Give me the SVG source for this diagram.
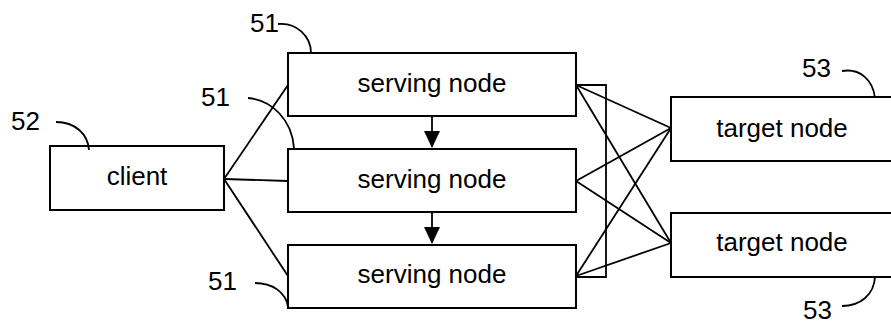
<svg xmlns="http://www.w3.org/2000/svg" width="891" height="324" viewBox="0 0 891 324">
<style>
.box{fill:#fff;stroke:#000;stroke-width:2}
.t{font-family:"Liberation Sans",Arial,sans-serif;font-size:26px;fill:#000}
.c{text-anchor:middle}
.ln{fill:none;stroke:#000;stroke-width:1.8}
</style>
<rect width="891" height="324" fill="#fff"/>
<g id="connectors">
<line class="ln" x1="224" y1="179" x2="288" y2="85"/>
<line class="ln" x1="224" y1="179" x2="288" y2="181"/>
<line class="ln" x1="224" y1="179" x2="288" y2="276"/>
<path class="ln" d="M576,85 H606 V277 H576"/>
<line class="ln" x1="576" y1="85" x2="671" y2="128"/>
<line class="ln" x1="576" y1="85" x2="671" y2="243"/>
<line class="ln" x1="576" y1="181" x2="671" y2="128"/>
<line class="ln" x1="576" y1="181" x2="671" y2="243"/>
<line class="ln" x1="576" y1="276" x2="671" y2="128"/>
<line class="ln" x1="576" y1="276" x2="671" y2="243"/>
<line class="ln" x1="432" y1="116" x2="432" y2="132"/>
<polygon points="424,131 440,131 432,148"/>
<line class="ln" x1="432" y1="212" x2="432" y2="228"/>
<polygon points="424,227 440,227 432,244"/>
</g>
<g id="client">
<rect class="box" x="50" y="146" width="174" height="64"/>
<text class="t c" x="137" y="185">client</text>
</g>
<g id="serving1">
<rect class="box" x="288" y="53" width="288" height="63"/>
<text class="t c" x="432" y="92">serving node</text>
</g>
<g id="serving2">
<rect class="box" x="288" y="149" width="288" height="63"/>
<text class="t c" x="432" y="188">serving node</text>
</g>
<g id="serving3">
<rect class="box" x="288" y="245" width="288" height="63"/>
<text class="t c" x="432" y="283">serving node</text>
</g>
<g id="target1">
<rect class="box" x="671" y="97" width="240" height="64"/>
<text class="t c" x="782" y="137">target node</text>
</g>
<g id="target2">
<rect class="box" x="671" y="213" width="240" height="64"/>
<text class="t c" x="782" y="251">target node</text>
</g>
<g id="labels">
<text class="t" x="250" y="32">51</text>
<path class="ln" d="M278,24 C296,22 311,36 311,53"/>
<text class="t" x="201" y="106">51</text>
<path class="ln" d="M248,98 C272,100 292,120 294,148"/>
<text class="t" x="11" y="130">52</text>
<path class="ln" d="M56,122 C75,122 88,134 89,150"/>
<text class="t" x="208" y="290">51</text>
<path class="ln" d="M255,283 C272,283 286,292 288,307"/>
<text class="t" x="802" y="77">53</text>
<path class="ln" d="M842,71 C860,68 873,80 875,98"/>
<text class="t" x="803" y="319">53</text>
<path class="ln" d="M842,306 C860,306 874,295 875,277"/>
</g>
</svg>
